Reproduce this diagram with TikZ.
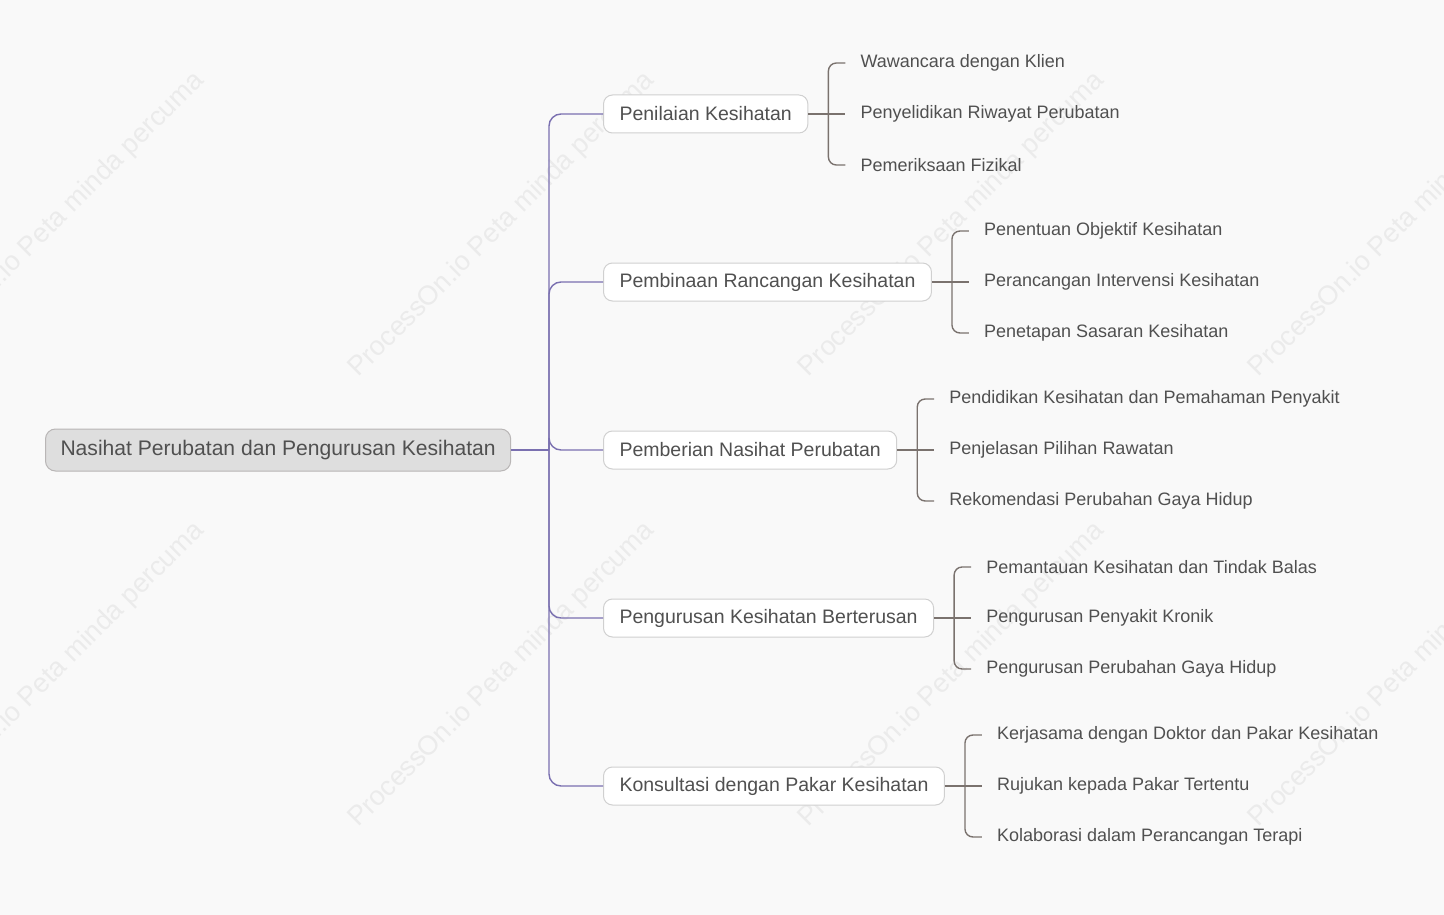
\documentclass[tikz,border=0pt]{standalone}
\usepackage{fontspec}
\setmainfont{Liberation Sans}
\usetikzlibrary{positioning}

\definecolor{bgcol}{RGB}{249,249,249}
\definecolor{txt}{RGB}{80,80,80}
\definecolor{rootfill}{RGB}{222,222,222}
\definecolor{rootline}{RGB}{185,182,182}
\definecolor{boxline}{RGB}{208,208,208}
\definecolor{trunkcol}{RGB}{122,112,176}
\definecolor{bracecol}{RGB}{122,114,110}
\definecolor{wmcol}{RGB}{235,235,235}

\begin{document}
\begin{tikzpicture}[x=1pt,y=-1pt,
    rootbox/.style={draw=rootline,fill=rootfill,rounded corners=10pt,line width=1pt,
      minimum height=42pt,inner xsep=15pt,anchor=west,text=txt,
      font=\fontsize{21.1}{25}\selectfont},
    topic/.style={draw=boxline,fill=white,rounded corners=9pt,line width=1pt,
      minimum height=38pt,inner xsep=16pt,anchor=west,text=txt,
      font=\fontsize{19.5}{23}\selectfont},
    leaf/.style={inner sep=0pt,anchor=west,text=txt,font=\fontsize{18}{21}\selectfont},
    trunk/.style={draw=trunkcol,line width=1.4pt,rounded corners=12pt},
    brace/.style={draw=bracecol,line width=1.4pt,rounded corners=8pt},
    wmark/.style={text=wmcol,rotate=45,font=\fontsize{27}{31}\selectfont}]
  \fill[bgcol] (0,0) rectangle (1444,915);
  \useasboundingbox (0,0) rectangle (1444,915);

  % watermark
  \foreach \wx in {52,502,952,1402}{
    \foreach \wy in {225,675}{
      \node[wmark] at (\wx,\wy) {ProcessOn.io Peta minda percuma};}}

  \node[rootbox] (root) at (45,450) {Nasihat Perubatan dan Pengurusan Kesihatan};
  \coordinate (hub) at (549,450);
  \draw[trunk] (root.east) -- (hub);

  \foreach \i/\y/\t/\la/\lb/\lc in {
      1/114/Penilaian Kesihatan/Wawancara dengan Klien/Penyelidikan Riwayat Perubatan/Pemeriksaan Fizikal,
      2/282/Pembinaan Rancangan Kesihatan/Penentuan Objektif Kesihatan/Perancangan Intervensi Kesihatan/Penetapan Sasaran Kesihatan,
      3/450/Pemberian Nasihat Perubatan/Pendidikan Kesihatan dan Pemahaman Penyakit/Penjelasan Pilihan Rawatan/Rekomendasi Perubahan Gaya Hidup,
      4/618/Pengurusan Kesihatan Berterusan/Pemantauan Kesihatan dan Tindak Balas/Pengurusan Penyakit Kronik/Pengurusan Perubahan Gaya Hidup,
      5/786/Konsultasi dengan Pakar Kesihatan/Kerjasama dengan Doktor dan Pakar Kesihatan/Rujukan kepada Pakar Tertentu/Kolaborasi dalam Perancangan Terapi}{
    \node[topic] (b\i) at (603,\y) {\t};
    \node[leaf,right=52pt of b\i] (l\i-2) {\lb};
    \node[leaf] (l\i-1) at ([yshift=51pt]l\i-2.west) {\la};
    \node[leaf] (l\i-3) at ([yshift=-51pt]l\i-2.west) {\lc};
    \draw[trunk] (hub) |- (b\i.west);
    \draw[brace] (b\i.east) -- ([xshift=-15pt]l\i-2.west);
    \draw[brace] ([xshift=-15pt]l\i-1.west) -| ([xshift=-32pt]l\i-2.west)
      |- ([xshift=-15pt]l\i-3.west);
  }
\end{tikzpicture}
\end{document}
